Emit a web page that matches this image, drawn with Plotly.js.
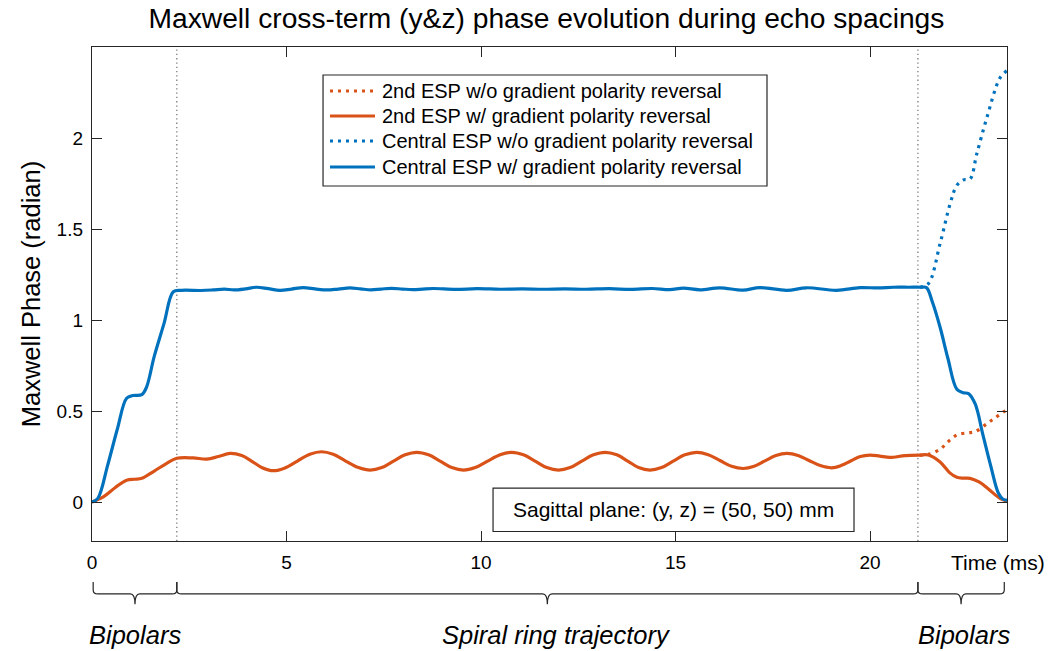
<!DOCTYPE html>
<html>
<head>
<meta charset="utf-8">
<script src="https://cdn.plot.ly/plotly-3.0.1.min.js"></script>
<style>
  html, body { margin: 0; padding: 0; background: #fff; }
  #chart { width: 1057px; height: 651px; }
</style>
</head>
<body>
<div id="chart"></div>
<script>
// Maxwell cross-term phase (radian) over time (ms), sampled along each curve.

// 2nd ESP, with gradient polarity reversal
const secondRevT = [0, 0.3, 0.6, 0.89, 1.1, 1.28, 1.6, 1.9, 2.18, 2.6, 2.95, 3.25, 3.55, 3.85, 4.1, 4.36, 4.66, 4.96,
  5.28, 5.6, 5.9, 6.2, 6.52, 6.85, 7.15, 7.45, 7.75, 8.05, 8.35, 8.65, 8.95, 9.25, 9.55, 9.85,
  10.17, 10.49, 10.79, 11.09, 11.39, 11.69, 11.99, 12.29, 12.59, 12.89, 13.19, 13.49, 13.77,
  14.05, 14.34, 14.64, 14.94, 15.24, 15.54, 15.84, 16.14, 16.44, 16.74, 17.02, 17.3, 17.58,
  17.86, 18.15, 18.43, 18.72, 19.01, 19.25, 19.5, 19.75, 20.0, 20.25, 20.51, 20.9, 21.28,
  21.5, 21.8, 22.05, 22.23, 22.4, 22.57, 22.8, 23.05, 23.34, 23.52];
const secondRevY = [0, 0.03, 0.08, 0.12, 0.125, 0.13, 0.17, 0.21, 0.24, 0.242, 0.236, 0.25, 0.267, 0.255, 0.225, 0.19, 0.172, 0.187,
  0.225, 0.262, 0.276, 0.262, 0.225, 0.189, 0.175, 0.189, 0.225, 0.259, 0.273, 0.259, 0.225, 0.189, 0.175, 0.189,
  0.225, 0.259, 0.273, 0.259, 0.225, 0.189, 0.175, 0.189, 0.225, 0.259, 0.273, 0.259, 0.225,
  0.189, 0.175, 0.189, 0.225, 0.259, 0.273, 0.26, 0.228, 0.196, 0.184, 0.196, 0.226, 0.255,
  0.267, 0.256, 0.228, 0.2, 0.188, 0.2, 0.225, 0.25, 0.258, 0.252, 0.245, 0.255, 0.258,
  0.258, 0.22, 0.16, 0.136, 0.131, 0.13, 0.11, 0.07, 0.02, 0.005];

// 2nd ESP, without reversal (departs after the spiral readout)
const secondNoRevT = [21.28, 21.5, 21.8, 22.0, 22.23, 22.5, 22.7, 23.0, 23.2, 23.43, 23.52];
const secondNoRevY = [0.258, 0.262, 0.29, 0.33, 0.368, 0.38, 0.386, 0.43, 0.46, 0.495, 0.505];

// Central ESP, with gradient polarity reversal
const centralRevT = [0, 0.15, 0.4, 0.65, 0.89, 1.05, 1.28, 1.4, 1.6, 1.85, 2.09, 2.3, 2.8, 3.1, 3.4, 3.65,
  3.95, 4.23, 4.53, 4.83, 5.13, 5.43, 5.73, 6.03, 6.33, 6.63, 6.9, 7.17, 7.43, 7.7, 7.98, 8.25,
  8.5, 8.77, 9.35, 9.9, 10.5, 11.05, 11.6, 12.15,
  12.7, 13.3, 13.85, 14.4, 14.85, 15.2, 15.63, 16.14, 16.73, 17.17, 17.86, 18.37, 19.14,
  19.74, 20.2, 20.6, 21.0, 21.3, 21.45, 21.6, 21.8, 22.0, 22.23, 22.4, 22.53, 22.7, 22.9,
  23.1, 23.3, 23.42, 23.52];
const centralRevY = [0, 0.02, 0.2, 0.4, 0.57, 0.585, 0.59, 0.63, 0.8, 0.98, 1.155, 1.163, 1.162, 1.165, 1.17, 1.165,
  1.171, 1.18, 1.172, 1.163, 1.17, 1.178, 1.171, 1.165, 1.17, 1.176, 1.171, 1.166, 1.17, 1.174, 1.17, 1.167,
  1.17, 1.173, 1.168, 1.172, 1.169, 1.171, 1.169, 1.171,
  1.169, 1.172, 1.168, 1.173, 1.167, 1.175, 1.166, 1.177, 1.164, 1.178, 1.163, 1.177, 1.163,
  1.178, 1.176, 1.18, 1.18, 1.18, 1.178, 1.1, 0.96, 0.79, 0.62, 0.6, 0.596, 0.54, 0.37,
  0.2, 0.048, 0.015, 0.01];

// Central ESP, without reversal
const centralNoRevT = [21.28, 21.5, 21.8, 22.06, 22.23, 22.4, 22.57, 22.74, 23.0, 23.34, 23.52];
const centralNoRevY = [1.18, 1.2, 1.42, 1.64, 1.74, 1.77, 1.775, 1.91, 2.11, 2.33, 2.37];

// Segment boundaries (ms) and their labels
const segmentEdges = [0.03, 2.18, 21.23, 23.45];
const segmentLabels = ['Bipolars', 'Spiral ring trajectory', 'Bipolars'];

const xTicks = [0, 5, 10, 15, 20];
const yTicks = [0, 0.5, 1, 1.5, 2];

const BLUE = '#0072BD';
const ORANGE = '#D95319';
const INK = '#262626';
const FONT = 'Liberation Sans, Arial, Helvetica, sans-serif';
const DOTS = '3px,5px';

const series = [
  { x: secondNoRevT, y: secondNoRevY, name: '2nd ESP w/o gradient polarity reversal', color: ORANGE, dash: DOTS },
  { x: secondRevT, y: secondRevY, name: '2nd ESP w/ gradient polarity reversal', color: ORANGE, dash: 'solid' },
  { x: centralNoRevT, y: centralNoRevY, name: 'Central ESP w/o gradient polarity reversal', color: BLUE, dash: DOTS },
  { x: centralRevT, y: centralRevY, name: 'Central ESP w/ gradient polarity reversal', color: BLUE, dash: 'solid' }
];

const traces = series.map(s => ({
  type: 'scatter', mode: 'lines', x: s.x, y: s.y, name: s.name, hoverinfo: 'skip', showlegend: false,
  line: { color: s.color, width: 3.2, dash: s.dash, shape: 'spline' }
}));

// Vertical dotted separators at the inner segment edges
const shapes = [segmentEdges[1], segmentEdges[2]].map(xv => ({
  type: 'line', xref: 'x', yref: 'paper', x0: xv, x1: xv, y0: 0, y1: 1,
  line: { color: '#7a7a7a', width: 1.3, dash: '1.3px,3px' }, layer: 'below'
}));

// Braces under the axis
const yTop = -0.083, yLine = -0.107, yTip = -0.128, rx = 0.12, cy = 0.008;
for (let i = 0; i < segmentLabels.length; i++) {
  const x0 = segmentEdges[i], x1 = segmentEdges[i + 1], xm = (x0 + x1) / 2;
  const path = `M ${x0},${yTop} L ${x0},${yLine + cy} Q ${x0},${yLine} ${x0 + rx},${yLine} ` +
    `L ${xm - rx},${yLine} Q ${xm},${yLine} ${xm},${yTip} Q ${xm},${yLine} ${xm + rx},${yLine} ` +
    `L ${x1 - rx},${yLine} Q ${x1},${yLine} ${x1},${yLine + cy} L ${x1},${yTop}`;
  shapes.push({ type: 'path', xref: 'x', yref: 'paper', path: path,
    line: { color: INK, width: 1.2 } });
}

// Box around the location note
shapes.push({ type: 'rect', xref: 'paper', yref: 'paper',
  x0: 0.4383, x1: 0.8328, y0: 0.0192, y1: 0.1069,
  line: { color: INK, width: 1.2 }, fillcolor: '#ffffff' });

// Legend box with line samples and entries
const legendBox = { x0: 0.2525, x1: 0.7377, y0: 0.7186, y1: 0.9433 };
const legendRows = [0.9109, 0.8603, 0.8097, 0.7571];
const sampleX = [0.2601, 0.3093], entryX = 0.3148;
shapes.push({ type: 'rect', xref: 'paper', yref: 'paper', ...legendBox,
  line: { color: INK, width: 1.2 }, fillcolor: '#ffffff' });

const annotations = [];
series.forEach((s, i) => {
  shapes.push({ type: 'line', xref: 'paper', yref: 'paper', x0: sampleX[0], x1: sampleX[1],
    y0: legendRows[i], y1: legendRows[i], line: { color: s.color, width: 3.2, dash: s.dash } });
  annotations.push({ xref: 'paper', yref: 'paper', x: entryX, y: legendRows[i], text: s.name,
    showarrow: false, xanchor: 'left', yanchor: 'middle',
    font: { family: FONT, size: 20, color: '#000' } });
});

const labelShift = [0, 9, 3];
segmentLabels.forEach((txt, i) => annotations.push({
  xref: 'x', yref: 'paper', x: (segmentEdges[i] + segmentEdges[i + 1]) / 2, xshift: labelShift[i],
  y: -0.19, text: '<i>' + txt + '</i>', showarrow: false, xanchor: 'center', yanchor: 'middle',
  font: { family: FONT, size: 25.5, color: '#000' }
}));
annotations.push({
  xref: 'paper', yref: 'paper', x: 0.99, y: -0.0445, text: 'Time (ms)', showarrow: false,
  xanchor: 'center', yanchor: 'middle', font: { family: FONT, size: 21, color: '#000' }
});
annotations.push({
  xref: 'paper', yref: 'paper', x: 0.6355, y: 0.063, text: 'Sagittal plane: (y, z) = (50, 50) mm',
  showarrow: false, xanchor: 'center', yanchor: 'middle', font: { family: FONT, size: 21, color: '#000' }
});

const layout = {
  width: 1057, height: 651,
  margin: { l: 92, r: 50, t: 47, b: 110 },
  paper_bgcolor: '#ffffff', plot_bgcolor: '#ffffff',
  font: { family: FONT, color: '#000' },
  showlegend: false,
  title: {
    text: 'Maxwell cross-term (y&z) phase evolution during echo spacings',
    font: { family: FONT, size: 28.2, color: '#000' },
    x: 0.517, xref: 'container', xanchor: 'center', y: 0.972, yref: 'container', yanchor: 'middle'
  },
  xaxis: {
    range: [0, 23.52], tickvals: xTicks, ticktext: xTicks.map(String),
    ticks: 'inside', ticklen: 10, tickwidth: 1, tickcolor: INK,
    showline: true, linecolor: INK, linewidth: 1.2, mirror: 'ticks',
    showgrid: false, zeroline: false,
    tickfont: { family: FONT, size: 19, color: '#000' }, ticklabelstandoff: 4
  },
  yaxis: {
    range: [-0.2143, 2.5], tickvals: yTicks, ticktext: yTicks.map(String),
    ticks: 'inside', ticklen: 10, tickwidth: 1, tickcolor: INK,
    showline: true, linecolor: INK, linewidth: 1.2, mirror: 'ticks',
    showgrid: false, zeroline: false,
    tickfont: { family: FONT, size: 19, color: '#000' }, ticklabelstandoff: 4,
    title: { text: 'Maxwell Phase (radian)', font: { family: FONT, size: 25.5, color: '#000' }, standoff: 8 }
  },
  shapes: shapes,
  annotations: annotations
};

Plotly.newPlot('chart', traces, layout, { displayModeBar: false, staticPlot: true });
</script>
</body>
</html>
